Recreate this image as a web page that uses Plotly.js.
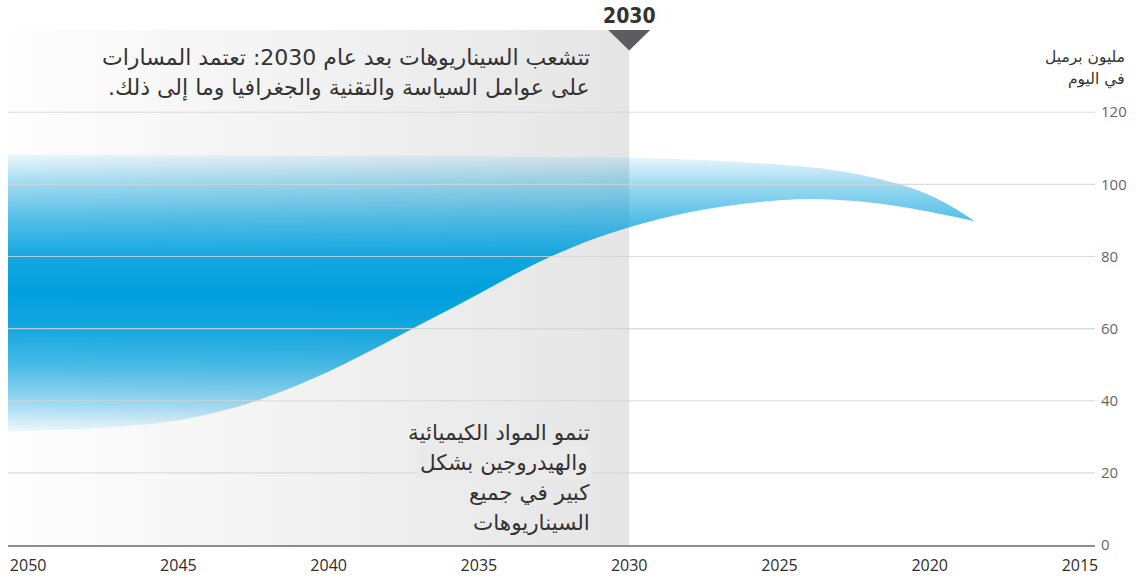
<!DOCTYPE html>
<html><head><meta charset="utf-8">
<script src="https://cdn.plot.ly/plotly-3.0.1.min.js"></script>
<style>html,body{margin:0;padding:0;background:#fff}#chart{width:1136px;height:580px}</style>
</head><body><div id="chart"></div>
<script>
// ---- data ----
const upperYears = [2050.67, 2048, 2045, 2042, 2040, 2037, 2035, 2032, 2030, 2028, 2026, 2024.3, 2022.7, 2021, 2020, 2019.3, 2018.5];
const upperVals  = [108.3, 108.3, 108.2, 108.1, 108.0, 107.9, 107.8, 107.6, 107.4, 106.9, 106.0, 105.0, 103.3, 100.0, 97.0, 94.0, 89.8];
const lowerYears = [2050.67, 2049, 2047, 2045, 2043, 2041, 2039, 2037, 2035, 2033, 2031, 2029, 2027, 2025, 2023.5, 2022, 2020.5, 2018.5];
const lowerVals  = [31.5, 31.9, 32.8, 34.6, 38.4, 44.4, 52.2, 60.9, 69.7, 78.5, 85.4, 90.4, 93.7, 95.6, 95.9, 95.0, 93.2, 89.8];
const xTicks = [2050, 2045, 2040, 2035, 2030, 2025, 2020, 2015];
const yTicks = [0, 20, 40, 60, 80, 100, 120];
const divergeYear = 2030;
const divergeLabel = '2030';
const unitLines = ['مليون برميل', 'في اليوم'];
const topNoteLines = ['تتشعب السيناريوهات بعد عام 2030: تعتمد المسارات', 'على عوامل السياسة والتقنية والجغرافيا وما إلى ذلك.'];
const bottomNoteLines = ['تنمو المواد الكيميائية', 'والهيدروجين بشكل', 'كبير في جميع', 'السيناريوهات'];

// ---- layout geometry ----
const W = 1136, H = 580;
const L = 8, R = 1095, T = 30, B = 545;
const xRange = [2050.67, 2014.5];
const yRange = [0, 142.8];
const pxPerYear = (R - L) / (xRange[0] - xRange[1]);
const pxPerUnit = (B - T) / (yRange[1] - yRange[0]);
const px2paperX = p => (p - L) / (R - L);
const px2paperY = p => (B - p) / (B - T);
const rtl = s => '\u202B' + s + '\u202C';
const arFont = 'DejaVu Sans, Noto Sans, sans-serif';

const traces = [
  { // grey "diverging" region
    x: [xRange[0], divergeYear, divergeYear, xRange[0], xRange[0]],
    y: [yRange[0], yRange[0], yRange[1], yRange[1], yRange[0]],
    mode: 'lines', line: {width: 0}, fill: 'toself',
    fillgradient: {type: 'horizontal', start: xRange[0], stop: divergeYear,
      colorscale: [[0, 'rgba(229,229,229,0.05)'], [1, 'rgba(229,229,229,1)']]},
    hoverinfo: 'skip', showlegend: false
  },
  { x: lowerYears, y: lowerVals, mode: 'lines', line: {width: 0, shape: 'spline', smoothing: 1},
    hoverinfo: 'skip', showlegend: false },
  { x: upperYears, y: upperVals, mode: 'lines', line: {width: 0, shape: 'spline', smoothing: 1},
    fill: 'tonexty',
    fillgradient: {type: 'vertical', start: 31.5, stop: 108.5,
      colorscale: [[0, 'rgba(0,160,221,0.06)'], [0.11, 'rgba(0,160,221,0.4)'], [0.24, 'rgba(0,160,221,0.72)'],
                   [0.37, 'rgba(0,160,221,0.92)'], [0.5, 'rgba(0,160,221,1)'], [0.63, 'rgba(0,160,221,0.92)'],
                   [0.76, 'rgba(0,160,221,0.68)'], [0.89, 'rgba(0,160,221,0.38)'], [1, 'rgba(0,160,221,0.06)']]},
    hoverinfo: 'skip', showlegend: false }
];

const shapes = yTicks.filter(v => v > 0).map(v => ({
  type: 'line', xref: 'paper', x0: 0, x1: 1, yref: 'y', y0: v, y1: v,
  line: {color: 'rgba(212,212,212,0.85)', width: 1.2}, layer: 'above'
}));
const tdx = 21 / pxPerYear, tdy = 20.5 / pxPerUnit;
shapes.push({
  type: 'path', xref: 'x', yref: 'y', layer: 'above',
  path: `M ${divergeYear - tdx},${yRange[1]} L ${divergeYear + tdx},${yRange[1]} L ${divergeYear},${yRange[1] - tdy} Z`,
  fillcolor: '#5d5d61', line: {width: 0}
});

const annotations = [];
annotations.push({xref: 'x', x: divergeYear, yref: 'paper', y: px2paperY(16), yanchor: 'middle', xanchor: 'center',
  text: divergeLabel, showarrow: false,
  font: {family: 'DejaVu Sans Condensed, Liberation Sans Narrow, Liberation Sans, sans-serif', size: 21, color: '#333', weight: 'bold'}});
const unitY = [57, 79];
unitLines.forEach((t, i) => annotations.push({xref: 'paper', x: px2paperX(1127), xanchor: 'right', yref: 'paper', y: px2paperY(unitY[i]), yanchor: 'middle',
  text: rtl(t), showarrow: false, font: {family: arFont, size: 15.5, color: '#333'}}));
const topY = [57, 88];
topNoteLines.forEach((t, i) => annotations.push({xref: 'paper', x: px2paperX(592), xanchor: 'right', yref: 'paper', y: px2paperY(topY[i]), yanchor: 'middle',
  text: rtl(t), showarrow: false, font: {family: arFont, size: 22, color: '#333'}}));
const botY = [432, 462, 492, 522];
bottomNoteLines.forEach((t, i) => annotations.push({xref: 'paper', x: px2paperX(592), xanchor: 'right', yref: 'paper', y: px2paperY(botY[i]), yanchor: 'middle',
  text: rtl(t), showarrow: false, font: {family: arFont, size: 21.5, color: '#333'},
  bgcolor: i === 1 ? '#eaeaea' : 'rgba(0,0,0,0)', borderpad: i === 1 ? 3 : 1}));

const layout = {
  width: W, height: H,
  margin: {l: L, r: W - R, t: T, b: H - B, pad: 0},
  paper_bgcolor: '#fff', plot_bgcolor: '#fff',
  showlegend: false, hovermode: false,
  font: {family: 'Open Sans, Noto Sans, sans-serif'},
  xaxis: {range: xRange, tickvals: xTicks, ticktext: xTicks.map(String), showgrid: false, zeroline: false,
    showline: true, linecolor: '#8e8e8e', linewidth: 2, ticks: '', ticklabelstandoff: 5,
    tickfont: {size: 16, color: '#2e2e2e'}, fixedrange: true},
  yaxis: {range: yRange, tickvals: yTicks, ticktext: yTicks.map(String), side: 'right', showgrid: false, zeroline: false,
    showline: false, ticks: '', ticklabelstandoff: 5, tickfont: {size: 15, color: '#666'}, fixedrange: true},
  shapes: shapes, annotations: annotations
};
Plotly.newPlot('chart', traces, layout, {staticPlot: true, displayModeBar: false});
</script></body></html>
